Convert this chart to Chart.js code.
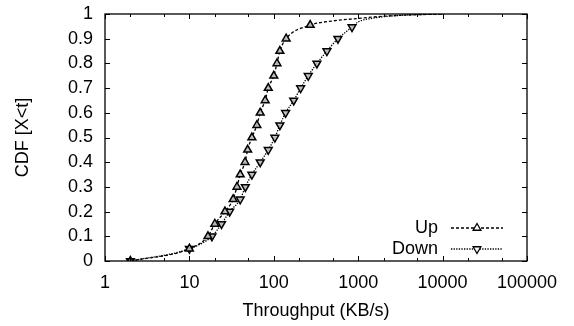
<!DOCTYPE html>
<html lang="en">
<head>
    <meta charset="UTF-8">
    <title>Throughput CDF</title>
    <script src="https://cdn.jsdelivr.net/npm/chart.js"></script>
    <style>
        body { margin: 0; background: #fff; }
        #wrap { width: 574px; height: 326px; }
    </style>
</head>
<body>
    <div id="wrap"><canvas id="cdfChart"></canvas></div>

    <script>
        // throughput (KB/s) vs cumulative fraction
        const upX = [2, 10, 16.6, 20, 26.4, 33, 36.6, 40, 45.6, 49, 55, 63, 69, 79, 86, 100, 109, 118, 140, 270, 500, 1000, 2000, 4000, 10000];
        const upY = [0, 0.05, 0.1, 0.15, 0.2, 0.25, 0.3, 0.35, 0.4, 0.45, 0.5, 0.55, 0.6, 0.65, 0.7, 0.75, 0.8, 0.85, 0.9, 0.955, 0.972, 0.982, 0.991, 0.996, 1.0];
        const downX = [2, 10, 18.5, 24, 30, 40, 46, 55, 69, 86, 103, 118, 138, 172, 208, 256, 324, 426, 575, 845, 1000, 1500, 3000, 10000];
        const downY = [0, 0.05, 0.1, 0.15, 0.2, 0.25, 0.3, 0.35, 0.4, 0.45, 0.5, 0.55, 0.6, 0.65, 0.7, 0.75, 0.8, 0.85, 0.9, 0.947, 0.968, 0.983, 0.994, 1.0];
        const xTicks = [1, 10, 100, 1000, 10000, 100000];
        const xMinor = [2, 5];
        const yTicks = [0, 0.1, 0.2, 0.3, 0.4, 0.5, 0.6, 0.7, 0.8, 0.9, 1];
        const seriesNames = ['Up', 'Down'];

        const font = { family: "'Liberation Sans', Arial, sans-serif", size: 18 };

        function toPoints(xs, ys) {
            return xs.map((x, i) => ({ x: x, y: ys[i] }));
        }

        // gnuplot style frame with inward ticks + legend at lower right
        const framePlugin = {
            id: 'frame',
            afterDraw(chart) {
                const c = chart.ctx;
                const a = chart.chartArea;
                const xs = chart.scales.x, ys = chart.scales.y;
                c.save();
                c.strokeStyle = '#000';
                c.lineWidth = 1.3;
                c.strokeRect(a.left, a.top, a.right - a.left, a.bottom - a.top);
                c.lineWidth = 1;
                c.beginPath();
                yTicks.forEach(v => {
                    const py = Math.round(ys.getPixelForValue(v)) + 0.5;
                    c.moveTo(a.left, py); c.lineTo(a.left + 5, py);
                    c.moveTo(a.right, py); c.lineTo(a.right - 5, py);
                });
                xTicks.forEach(v => {
                    const px = Math.round(xs.getPixelForValue(v)) + 0.5;
                    c.moveTo(px, a.bottom); c.lineTo(px, a.bottom - 5);
                    c.moveTo(px, a.top); c.lineTo(px, a.top + 5);
                    xMinor.forEach(m => {
                        if (v * m > 100000) return;
                        const mx = Math.round(xs.getPixelForValue(v * m)) + 0.5;
                        c.moveTo(mx, a.bottom); c.lineTo(mx, a.bottom - 3);
                        c.moveTo(mx, a.top); c.lineTo(mx, a.top + 3);
                    });
                });
                c.stroke();

                // legend
                c.font = font.size + 'px ' + font.family;
                c.textAlign = 'right';
                c.textBaseline = 'middle';
                chart.data.datasets.forEach((ds, i) => {
                    const ly = 228 + i * 21;
                    c.fillStyle = '#000';
                    c.fillText(seriesNames[i], 438, ly);
                    c.strokeStyle = '#000';
                    c.setLineDash(ds.borderDash);
                    c.lineWidth = 1.3;
                    c.beginPath();
                    c.moveTo(451, ly); c.lineTo(503, ly);
                    c.stroke();
                    c.setLineDash([]);
                    c.fillStyle = '#fff';
                    Chart.helpers.drawPoint(c, {
                        pointStyle: 'triangle',
                        rotation: ds.rotation,
                        radius: 4.5,
                        borderWidth: 1.5
                    }, 477, ly);
                });
                c.restore();
            }
        };

        const markerRadius = ctx => (ctx.parsed && ctx.parsed.y > 0.96 ? 0 : 4.5);

        new Chart(document.getElementById('cdfChart'), {
            type: 'line',
            data: {
                datasets: [{
                    label: seriesNames[0],
                    data: toPoints(upX, upY),
                    borderColor: '#000',
                    borderWidth: 1.3,
                    borderDash: [3, 2],
                    cubicInterpolationMode: 'monotone',
                    pointStyle: 'triangle',
                    rotation: 0,
                    pointRadius: markerRadius,
                    pointBorderColor: '#000',
                    pointBackgroundColor: 'rgba(190,190,190,0.9)',
                    pointBorderWidth: 1.5,
                    fill: false
                }, {
                    label: seriesNames[1],
                    data: toPoints(downX, downY),
                    borderColor: '#000',
                    borderWidth: 1.3,
                    borderDash: [1.3, 1.3],
                    cubicInterpolationMode: 'monotone',
                    pointStyle: 'triangle',
                    rotation: 180,
                    pointRadius: markerRadius,
                    pointBorderColor: '#000',
                    pointBackgroundColor: 'rgba(190,190,190,0.9)',
                    pointBorderWidth: 1.5,
                    fill: false
                }]
            },
            options: {
                responsive: true,
                maintainAspectRatio: false,
                animation: false,
                layout: { padding: { left: 0, right: 47, top: 14, bottom: 0 } },
                plugins: { legend: { display: false }, tooltip: { enabled: false } },
                scales: {
                    x: {
                        type: 'logarithmic',
                        min: 1, max: 100000,
                        afterBuildTicks: s => { s.ticks = xTicks.map(v => ({ value: v })); },
                        afterFit: s => { s.height = 65; s.paddingLeft = 0; s.paddingRight = 0; },
                        grid: { display: false, drawTicks: false },
                        border: { display: false },
                        ticks: {
                            color: '#000', font: font, padding: 11, maxRotation: 0, autoSkip: false,
                            callback: v => String(v)
                        },
                        title: { display: true, text: 'Throughput (KB/s)', color: '#000', font: font, padding: { top: 0, bottom: 4 } }
                    },
                    y: {
                        min: 0, max: 1,
                        afterBuildTicks: s => { s.ticks = yTicks.map(v => ({ value: v })); },
                        afterFit: s => { s.width = 105; s.paddingTop = 0; s.paddingBottom = 0; },
                        grid: { display: false, drawTicks: false },
                        border: { display: false },
                        ticks: {
                            color: '#000', font: font, padding: 12, autoSkip: false,
                            callback: v => String(Math.round(v * 10) / 10)
                        },
                        title: { display: true, text: 'CDF [X<t]', color: '#000', font: font, padding: { top: 12, bottom: 0 } }
                    }
                }
            },
            plugins: [framePlugin]
        });
    </script>
</body>
</html>
